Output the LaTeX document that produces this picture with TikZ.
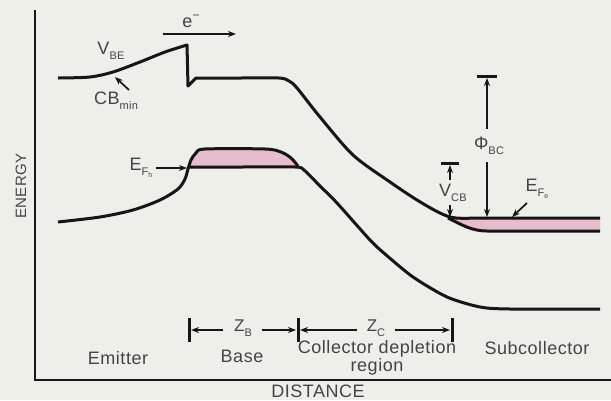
\documentclass[tikz,border=0pt]{standalone}
\usepackage{fontspec}
\setmainfont{Liberation Sans}[LetterSpace=3]
\usetikzlibrary{arrows.meta}
\definecolor{bg}{RGB}{238,239,232}
\definecolor{ink}{RGB}{22,22,22}
\definecolor{txt}{RGB}{68,68,68}
\definecolor{pinkfill}{RGB}{231,188,205}
\newcommand{\sbx}[1]{\raisebox{-0.28em}{\fontsize{11}{11}\selectfont #1}}
\newcommand{\ssbx}[1]{\raisebox{-0.2em}{\fontsize{7}{7}\selectfont #1}}
\begin{document}
\begin{tikzpicture}[x=1pt,y=-1pt,
  band/.style={draw=ink,line width=3pt,line join=round},
  axisline/.style={draw=ink,line width=2.2pt},
  lbl/.style={text=txt,font=\fontsize{18}{18}\selectfont,inner sep=0pt},
  ptr/.style={draw=ink,line width=1.7pt,-{Stealth[length=8pt,width=6pt]}},
  tbar/.style={draw=ink,line width=3pt},
]
\fill[bg] (0,0) rectangle (611,400);
\useasboundingbox (0,0) rectangle (611,400);

% pink fills
\begin{scope}
  \clip (180,100) rectangle (320,167);
  \fill[pinkfill] plot[smooth,tension=0.5] coordinates {(58,222)(100,217)(133,210)(160,200)(178,189)(185,179)(188,169)(191,160)(196,153)(205,149)(265,149)(281,152)(291,158)(298,166)} -- cycle;
\end{scope}
\fill[pinkfill] (448,218) .. controls (462,225) and (472,231) .. (487,231) -- (600,231) -- (600,218) -- cycle;

% axes
\draw[axisline] (35,10) -- (35,380) -- (611,380);

% conduction band
\draw[band] plot[smooth,tension=0.5] coordinates {(58,78)(90,77)(113,72)(140,62)(165,52)(187,45)} -- (188,86) -- (196,78)
  -- plot[smooth,tension=0.5] coordinates {(196,78)(240,78)(279,78)(289,81)(297,88)(320,117)(353,155)(390,182)(417,200)(440,213)(456,218)(490,218)(600,218)};

% valence / base curve
\draw[band] plot[smooth,tension=0.5] coordinates {(58,222)(100,217)(133,210)(160,200)(178,189)(185,179)(188,169)(191,160)(196,153)(205,149)(265,149)(281,152)(291,158)(298,166)};

% base Fermi level and descending curve
\draw[band] plot[smooth,tension=0.45] coordinates {(188,167)(240,167)(295,167)(304,170)(320,186)(337,203)(370,240)(385,254)(413,277)(447,297)(480,307)(510,309)(600,309)};

% subcollector lower boundary
\draw[band] (448,218) .. controls (462,225) and (472,231) .. (487,231) -- (600,231);

% region labels
\node[lbl] (emitter) at (118,358) {Emitter};
\node[lbl] (base) at (242,356) {Base};
\node[lbl,align=center] (coll) at (377,358) {Collector depletion\\region};
\node[lbl] (subc) at (537,348) {Subcollector};
\node[lbl] (dist) at (318,391) {DISTANCE};
\node[lbl,rotate=90,font=\fontsize{15}{15}\selectfont] (energy) at (21,186) {ENERGY};

% electron arrow
\node[lbl] (elec) at (191,21) {e\raisebox{0.45em}{\fontsize{12}{12}\selectfont −}};
\coordinate (eL) at (163,34);
\coordinate (eR) at (236,34);
\draw[ptr] (eL) -- (eR);

% V_BE and CB_min
\node[lbl] (vbe) at (111,51) {V\sbx{BE}};
\node[lbl] (cbmin) at (116,101) {CB\sbx{min}};
\coordinate (cbtail) at (129,90);
\coordinate (cbtip) at (115,77);
\draw[ptr] (cbtail) -- (cbtip);

% E_Fh
\node[lbl] (efh) at (141,168) {E\sbx{F\ssbx{h}}};
\coordinate (efhtip) at (187,168);
\draw[ptr] (efh.east) ++(3,0) -- (efhtip);

% V_CB
\node[lbl] (vcb) at (453,193) {V\sbx{CB}};
\coordinate (vcbbarL) at (441,163);
\coordinate (vcbbarR) at (459,163);
\coordinate (vcbup) at (450,165);
\coordinate (vcbupS) at (450,180);
\coordinate (vcbdnS) at (450,205);
\coordinate (vcbdn) at (450,217);
\draw[tbar] (vcbbarL) -- (vcbbarR);
\draw[ptr] (vcbupS) -- (vcbup);
\draw[ptr] (vcbdnS) -- (vcbdn);

% Phi_BC
\node[lbl] (phi) at (489,146) {Φ\sbx{BC}};
\coordinate (phibarL) at (477,76);
\coordinate (phibarR) at (497,76);
\coordinate (phiup) at (487,78);
\coordinate (phiupS) at (487,129);
\coordinate (phidnS) at (487,162);
\coordinate (phidn) at (487,217);
\draw[tbar] (phibarL) -- (phibarR);
\draw[ptr] (phiupS) -- (phiup);
\draw[ptr] (phidnS) -- (phidn);

% E_Fe
\node[lbl] (efe) at (537,189) {E\sbx{F\ssbx{e}}};
\coordinate (efetail) at (527,203);
\coordinate (efetip) at (512,217);
\draw[ptr] (efetail) -- (efetip);

% Z_B and Z_C
\node[lbl,font=\fontsize{17}{17}\selectfont] (zb) at (243,328) {Z\sbx{B}};
\node[lbl,font=\fontsize{17}{17}\selectfont] (zc) at (376,328) {Z\sbx{C}};
\coordinate (b1T) at (189,318); \coordinate (b1B) at (189,342);
\coordinate (b2T) at (298,318); \coordinate (b2B) at (298,342);
\coordinate (b3T) at (452,318); \coordinate (b3B) at (452,342);
\draw[tbar] (b1T) -- (b1B);
\draw[tbar] (b2T) -- (b2B);
\draw[tbar] (b3T) -- (b3B);
\coordinate (zbL) at (191,330); \coordinate (zbR) at (296,330);
\coordinate (zcL) at (300,330); \coordinate (zcR) at (450,330);
\draw[ptr] (223,330) -- (zbL);
\draw[ptr] (262,330) -- (zbR);
\draw[ptr] (357,330) -- (zcL);
\draw[ptr] (395,330) -- (zcR);
\end{tikzpicture}
\end{document}
